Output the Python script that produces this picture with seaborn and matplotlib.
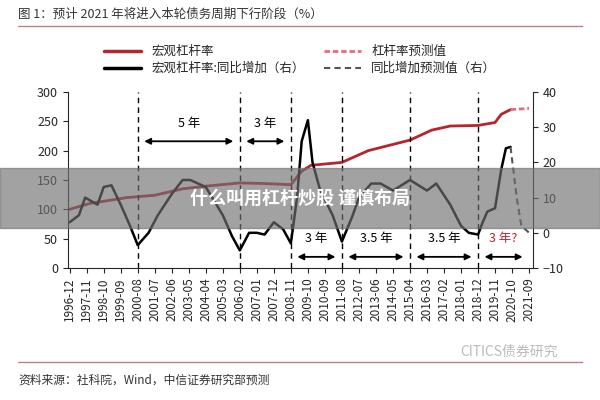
import matplotlib
matplotlib.use("Agg")
import matplotlib.pyplot as plt
import seaborn as sns
import pandas as pd
import numpy as np

sns.set_style("ticks")
plt.rcParams['font.family'] = ['Noto Sans CJK SC', 'DejaVu Sans']

def ym(s):
    y, m = s.split("-")
    return int(y) + (int(m) - 1) / 12

tick_labels = ["1996-12","1997-11","1998-10","1999-09","2000-08","2001-07","2002-06","2003-05",
               "2004-04","2005-03","2006-02","2007-01","2007-12","2008-11","2009-10","2010-09",
               "2011-08","2012-07","2013-06","2014-05","2015-04","2016-03","2017-02","2018-01",
               "2018-12","2019-11","2020-10","2021-09"]

lev_dates = ["1996-12","1998-01","2000-01","2001-07","2003-01","2004-06","2006-02","2007-06","2008-11",
             "2009-06","2009-12","2011-08","2013-01","2015-04","2016-06","2017-06","2018-12","2019-11",
             "2020-03","2020-09"]
lev_vals = [100,110,120,124,135,140,145,144,142,165,175,180,200,218,235,242,243,248,262,270]
lev_fc_dates = ["2020-09","2021-09"]
lev_fc_vals = [270,272]

yoy_dates = ["1996-12","1997-06","1997-10","1998-06","1998-10","1999-03","1999-09","2000-03","2000-08",
             "2001-03","2001-09","2002-06","2003-01","2003-06","2004-04","2005-03","2005-09","2006-02",
             "2006-08","2007-01","2007-06","2007-12","2008-06","2008-11","2009-03","2009-06","2009-10",
             "2010-01","2010-06","2011-02","2011-08","2012-03","2012-07","2013-03","2013-09","2014-05",
             "2015-04","2016-03","2016-09","2017-06","2018-01","2018-06","2018-12","2019-03","2019-06",
             "2019-11","2020-03","2020-06","2020-09"]
yoy_vals = [3,5,10,8,13,13.5,8,2,-3.5,0,5,11,15,15,13,5,-1,-5,0,0,-0.5,3,1,-3,10,26,32,
            20,12,5,-2.5,5,10,14,14,12,15,12,14,8,2,0,-0.5,3,6,7,18,24,24.4]
yoy_fc_dates = ["2020-09","2021-01","2021-04","2021-09"]
yoy_fc_vals = [24.4,10,2,0]

fig = plt.figure(figsize=(6, 4), dpi=100)
ax = fig.add_axes([0.113, 0.33, 0.775, 0.44])
ax2 = ax.twinx()

red = "#b5252e"
df_l = pd.DataFrame({"x": [ym(d) for d in lev_dates], "y": lev_vals})
df_lf = pd.DataFrame({"x": [ym(d) for d in lev_fc_dates], "y": lev_fc_vals})
df_y = pd.DataFrame({"x": [ym(d) for d in yoy_dates], "y": yoy_vals})
df_yf = pd.DataFrame({"x": [ym(d) for d in yoy_fc_dates], "y": yoy_fc_vals})
sns.lineplot(data=df_l, x="x", y="y", ax=ax, color=red, lw=2)
sns.lineplot(data=df_lf, x="x", y="y", ax=ax, color="#e07080", lw=2, ls=(0, (2, 1)))
sns.lineplot(data=df_y, x="x", y="y", ax=ax2, color="black", lw=1.8)
sns.lineplot(data=df_yf, x="x", y="y", ax=ax2, color="#555555", lw=1.5, ls=(0, (3, 2)))

x0, x1 = ym("1996-12"), ym("2021-09")
ax.set_xlim(x0 - 0.1, x1 + 0.2)
ax.set_ylim(0, 300)
ax2.set_ylim(-10, 40)
ax.set_yticks([0, 50, 100, 150, 200, 250, 300])
ax2.set_yticks([-10, 0, 10, 20, 30, 40])
ax.set_xticks([ym(t) for t in tick_labels])
ax.set_xticklabels(tick_labels, rotation=90, fontsize=8.5)
ax.tick_params(axis="y", labelsize=9)
ax2.tick_params(axis="y", labelsize=9)
ax.set_xlabel(""); ax.set_ylabel(""); ax2.set_ylabel("")
for a in (ax, ax2):
    a.spines["top"].set_visible(False)
ax.spines["right"].set_visible(False)
ax2.spines["left"].set_visible(False)
ax2.spines["bottom"].set_visible(False)

vlines = ["2000-08","2006-02","2008-11","2011-08","2015-04","2018-12"]
for v in vlines:
    ax.axvline(ym(v), color="black", ls=(0, (4, 3)), lw=1)

def arrow(a, b, y, text, color="black", ty=None):
    ax.annotate("", xy=(ym(a) + 0.2, y), xytext=(ym(b) - 0.2, y),
                arrowprops=dict(arrowstyle="<|-|>", color="black", lw=1.3, mutation_scale=9))
    ax.text((ym(a) + ym(b)) / 2, ty if ty else y + 25, text, ha="center", fontsize=9, color=color)

arrow("2000-08", "2006-02", 216, "5 年")
arrow("2006-02", "2008-11", 216, "3 年")
arrow("2008-11", "2011-08", 19, "3 年")
arrow("2011-08", "2015-04", 19, "3.5 年")
arrow("2015-04", "2018-12", 19, "3.5 年")
arrow("2018-12", "2021-09", 19, "3 年?", color=red)

from matplotlib.lines import Line2D
handles = [Line2D([], [], color=red, lw=2.5), Line2D([], [], color="black", lw=2.5),
           Line2D([], [], color="#e07080", lw=2, ls=(0, (2, 1))), Line2D([], [], color="#555555", lw=1.5, ls=(0, (3, 2)))]
labels = ["宏观杠杆率", "宏观杠杆率:同比增加（右）", "杠杆率预测值", "同比增加预测值（右）"]
fig.legend(handles, labels, ncol=2, loc="center", bbox_to_anchor=(0.5, 0.85), frameon=False,
           fontsize=9, handlelength=3, columnspacing=1.5, labelspacing=0.3)

fig.text(0.03, 0.955, "图 1：预计 2021 年将进入本轮债务周期下行阶段（%）", fontsize=9, color="#333333")
fig.add_artist(Line2D([0.03, 0.97], [0.935, 0.935], color="#c08080", lw=1))
fig.add_artist(Line2D([0.03, 0.97], [0.095, 0.095], color="#c08080", lw=1))
fig.text(0.03, 0.04, "资料来源：社科院，Wind，中信证券研究部预测", fontsize=8.5, color="#333333")
fig.text(0.93, 0.11, "CITICS债券研究", fontsize=10, color="#bbbbbb", ha="right")

from matplotlib.patches import Rectangle
fig.add_artist(Rectangle((0, 0.43), 1, 0.15, transform=fig.transFigure, color="#707070", alpha=0.65, zorder=10))
fig.text(0.5, 0.505, "什么叫用杠杆炒股 谨慎布局", fontsize=13, color="white", weight="bold",
         ha="center", va="center", zorder=11)

fig.savefig("out.png", dpi=100)
